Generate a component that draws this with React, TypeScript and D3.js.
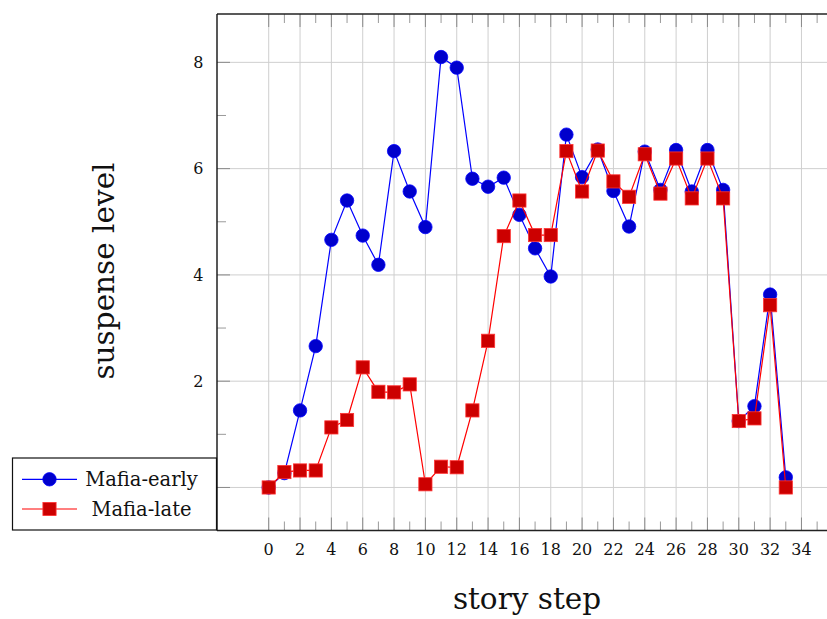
import * as d3 from 'd3';

const steps = [0, 1, 2, 3, 4, 5, 6, 7, 8, 9, 10, 11, 12, 13, 14, 15, 16, 17, 18, 19, 20, 21, 22, 23, 24, 25, 26, 27, 28, 29, 30, 31, 32, 33];
const mafiaEarly = [0, 0.27, 1.45, 2.66, 4.66, 5.4, 4.74, 4.19, 6.33, 5.57, 4.9, 8.1, 7.9, 5.81, 5.66, 5.83, 5.13, 4.5, 3.97, 6.64, 5.84, 6.36, 5.58, 4.91, 6.32, 5.6, 6.35, 5.57, 6.35, 5.6, 1.25, 1.53, 3.63, 0.19];
const mafiaLate = [0, 0.29, 0.32, 0.32, 1.13, 1.27, 2.26, 1.8, 1.79, 1.94, 0.06, 0.39, 0.38, 1.45, 2.76, 4.73, 5.4, 4.75, 4.75, 6.33, 5.57, 6.34, 5.76, 5.47, 6.27, 5.53, 6.19, 5.44, 6.19, 5.44, 1.25, 1.3, 3.43, 0];
const xMajor = [0, 2, 4, 6, 8, 10, 12, 14, 16, 18, 20, 22, 24, 26, 28, 30, 32, 34];
const xMinor = [1, 3, 5, 7, 9, 11, 13, 15, 17, 19, 21, 23, 25, 27, 29, 31, 33, 35];
const yMajor = [0, 2, 4, 6, 8];
const yMinor = [1, 3, 5, 7];
// the "0" label sits under the legend box in the original, so only these show
const yLabels = [2, 4, 6, 8];

const W = 827;
const H = 619;
const FONT = "'DejaVu Serif', serif";

export default function App() {
  const x = d3.scaleLinear().domain([-3.3, 36.3]).range([217, 837.5]);
  const y = d3.scaleLinear().domain([-0.81, 8.91]).range([530.5, 14]);
  const left = x.range()[0];
  const right = x.range()[1];
  const top = y.range()[1];
  const bottom = y.range()[0];

  const line = d3
    .line<number>()
    .x((_, i) => x(steps[i]))
    .y((v) => y(v));

  return (
    <svg width={W} height={H} style={{ position: 'absolute', left: 0, top: 0, background: '#fff' }}>
      {/* grid */}
      {xMajor.map((t) => (
        <line key={'gx' + t} x1={x(t)} x2={x(t)} y1={top} y2={bottom} stroke="#cfcfcf" strokeWidth={1} />
      ))}
      {yMajor.map((t) => (
        <line key={'gy' + t} x1={left} x2={right} y1={y(t)} y2={y(t)} stroke="#cfcfcf" strokeWidth={1} />
      ))}

      {/* ticks */}
      {xMajor.map((t) => (
        <g key={'tx' + t} stroke="#8a8a8a" strokeWidth={1}>
          <line x1={x(t)} x2={x(t)} y1={top} y2={top + 13} />
          <line x1={x(t)} x2={x(t)} y1={bottom} y2={bottom - 13} />
        </g>
      ))}
      {xMinor.map((t) => (
        <g key={'mx' + t} stroke="#9a9a9a" strokeWidth={1}>
          <line x1={x(t)} x2={x(t)} y1={top} y2={top + 9} />
          <line x1={x(t)} x2={x(t)} y1={bottom} y2={bottom - 9} />
        </g>
      ))}
      {yMajor.map((t) => (
        <line key={'ty' + t} x1={left} x2={left + 13} y1={y(t)} y2={y(t)} stroke="#8a8a8a" strokeWidth={1} />
      ))}
      {yMinor.map((t) => (
        <line key={'my' + t} x1={left} x2={left + 9} y1={y(t)} y2={y(t)} stroke="#9a9a9a" strokeWidth={1} />
      ))}

      {/* spines */}
      <line x1={left} x2={right} y1={top} y2={top} stroke="#222" strokeWidth={1.4} />
      <line x1={left} x2={right} y1={bottom} y2={bottom} stroke="#222" strokeWidth={1.4} />
      <line x1={left} x2={left} y1={top} y2={bottom} stroke="#111" strokeWidth={1.4} />

      {/* tick labels */}
      {xMajor.map((t) => (
        <text key={'lx' + t} x={x(t)} y={554.5} textAnchor="middle" fontFamily={FONT} fontSize={16} fill="#111">
          {t}
        </text>
      ))}
      {yLabels.map((t) => (
        <text key={'ly' + t} x={203.5} y={y(t)} dy="0.36em" textAnchor="end" fontFamily={FONT} fontSize={16} fill="#111">
          {t}
        </text>
      ))}

      {/* axis labels */}
      <text x={527} y={609} textAnchor="middle" fontFamily={FONT} fontSize={29.5} fill="#111">
        story step
      </text>
      <text
        transform="translate(114,271) rotate(-90)"
        textAnchor="middle"
        fontFamily={FONT}
        fontSize={29.5}
        fill="#111"
      >
        suspense level
      </text>

      {/* series */}
      <path d={line(mafiaEarly) || ''} fill="none" stroke="#0000ff" strokeWidth={1.2} />
      {mafiaEarly.map((v, i) => (
        <circle key={'e' + i} cx={x(steps[i])} cy={y(v)} r={6.7} fill="#0000cc" stroke="#0000ff" strokeWidth={0.8} />
      ))}
      <path d={line(mafiaLate) || ''} fill="none" stroke="#ff0000" strokeWidth={1.2} />
      {mafiaLate.map((v, i) => (
        <rect
          key={'l' + i}
          x={x(steps[i]) - 6.6}
          y={y(v) - 6.6}
          width={13.2}
          height={13.2}
          fill="#cc0000"
          stroke="#ff3333"
          strokeWidth={0.8}
        />
      ))}

      {/* legend */}
      <g>
        <rect x={12.5} y={458} width={204} height={72} fill="#fff" stroke="#111" strokeWidth={1.2} />
        <line x1={22} x2={77} y1={479.3} y2={479.3} stroke="#0000ff" strokeWidth={1.2} />
        <circle cx={49.5} cy={479.3} r={6.7} fill="#0000cc" stroke="#0000ff" strokeWidth={0.8} />
        <text x={141.5} y={479.3} dy="0.34em" textAnchor="middle" fontFamily={FONT} fontSize={19.5} fill="#111">
          Mafia-early
        </text>
        <line x1={22} x2={77} y1={509} y2={509} stroke="#ff0000" strokeWidth={1.2} />
        <rect x={49.5 - 6.6} y={509 - 6.6} width={13.2} height={13.2} fill="#cc0000" stroke="#ff3333" strokeWidth={0.8} />
        <text x={141.5} y={509} dy="0.34em" textAnchor="middle" fontFamily={FONT} fontSize={19.5} fill="#111">
          Mafia-late
        </text>
      </g>
    </svg>
  );
}
